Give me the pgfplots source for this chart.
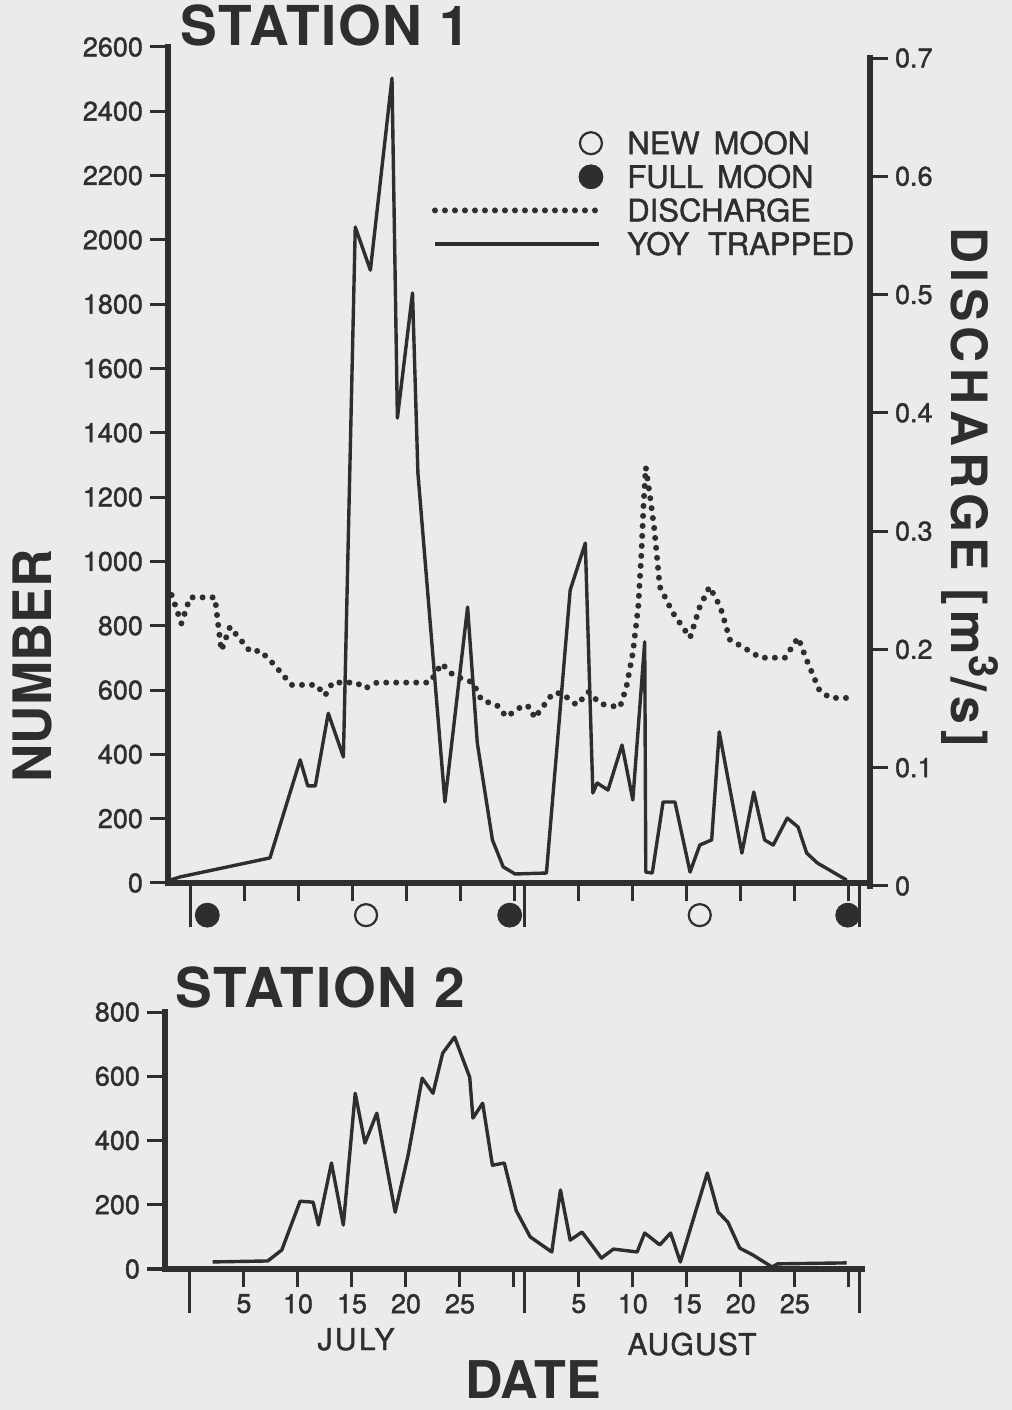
\documentclass[border=0pt]{standalone}
\usepackage{fontspec}
\setmainfont{TeX Gyre Heros}
\newfontfamily\medf{TeX Gyre Heros}[FakeBold=1.3]
\usepackage{pgfplots}
\pgfplotsset{compat=1.18}
\definecolor{bg}{HTML}{EBEBEB}
\definecolor{lc}{HTML}{2E2E2E}
\tikzset{dotline/.style={lc, line width=3pt, line cap=round, dash pattern=on 0pt off 5pt}}
\pgfplotsset{
  base/.style={scale only axis, clip=false,
    axis line style={line width=3.2pt, line cap=rect, lc},
    tick style={line width=1.5pt, lc}, tick align=outside, major tick length=9pt,
    ticklabel style={font=\medf\fontsize{13.5}{16}\selectfont, text=lc},
    /pgf/number format/assume math mode=true,
    /pgf/number format/set thousands separator={}},
  xdays/.style={xtick={5,10,15,20,25,30,36,41,46,51,56,61},
    extra x ticks={0,31,62}, extra x tick labels={},
    extra x tick style={major tick length=22pt}},
}
\begin{document}
\begin{tikzpicture}
\fill[bg] (0,0) rectangle (506pt,705pt);
\path[use as bounding box] (0,0) rectangle (506pt,705pt);

% ---------------- Station 1, number ----------------
\begin{axis}[base, xdays, at={(84pt,263.5pt)}, anchor=south west,
  width=351pt, height=418pt, xmin=-2.04, xmax=62.96, ymin=0, ymax=2600,
  axis x line*=bottom, axis y line*=left, ytick={0,200,...,2600}, xticklabels={}]
\addplot[lc, line width=1.7pt, line join=round] coordinates {
(-1.85,9) (-0.9,19) (7.4,78) (10.2,383) (10.9,302) (11.6,302) (12.8,528) (14.2,392)
(15.3,2040) (16.7,1906) (18.7,2503) (19.2,1446) (20.6,1835) (21.1,1275) (23.6,252)
(25.7,858) (26.6,435) (28.0,134) (29.0,50) (30.1,28) (33.0,31) (35.2,911) (36.6,1057)
(37.3,280) (37.7,311) (38.7,289) (40.0,429) (41.0,258) (42.1,750) (42.2,34) (42.8,31)
(43.8,252) (44.9,252) (46.3,34) (47.2,118) (48.3,134) (49.0,470) (51.1,93) (52.2,283)
(53.2,134) (54.0,118) (55.3,202) (56.3,174) (57.1,93) (58.1,62) (60.8,9)};
% full moons
\addplot[only marks, mark=*, mark size=6pt, mark options={fill=lc, draw=lc}]
  coordinates {(1.6,-100) (29.6,-100) (60.9,-100)};
% new moons
\addplot[only marks, mark=*, mark size=5.5pt, mark options={fill=bg, draw=lc, line width=1.1pt}]
  coordinates {(16.3,-100) (47.2,-100)};
\end{axis}

% ---------------- Station 1, discharge ----------------
\begin{axis}[base, at={(84pt,262pt)}, anchor=south west,
  width=351pt, height=414pt, xmin=-2.04, xmax=62.96, ymin=0, ymax=0.7,
  axis x line=none, axis y line*=right,
  ytick={0,0.1,0.2,0.3,0.4,0.5,0.6,0.7},
  yticklabels={0,0.1,0.2,0.3,0.4,0.5,0.6,0.7},
  legend cell align=left,
  legend style={at={(0.376,0.914)}, anchor=north west, draw=none, fill=none,
    inner sep=0pt, outer sep=0pt, row sep=2.8pt, column sep=12pt,
    font=\medf\fontsize{15.5}{18}\selectfont, text=lc,
    nodes={inner sep=0pt, text height=12.5pt, text depth=1.5pt}}]
\addlegendimage{legend image code/.code={\draw[lc, fill=bg, line width=1.1pt] (78pt,0pt) circle (5.5pt);}}
\addlegendentry{NEW\hspace{0.45em}MOON}
\addlegendimage{legend image code/.code={\fill[lc] (78pt,0pt) circle (6pt);}}
\addlegendentry{FULL\hspace{0.45em}MOON}
\addplot[dotline, legend image code/.code={\draw[dotline] (0pt,0pt) -- (82pt,0pt);}] coordinates {
(-1.7,0.246) (-0.8,0.222) (0,0.244) (2.3,0.244) (2.9,0.199) (3.7,0.219) (5.6,0.198)
(6.5,0.199) (7.7,0.188) (9.4,0.170) (11.7,0.170) (12.5,0.161) (13.2,0.172) (15.4,0.172)
(16.2,0.167) (17.3,0.172) (22.2,0.172) (23.3,0.188) (24.4,0.178) (26.2,0.172) (27.0,0.157)
(28.4,0.153) (29.3,0.143) (30.9,0.153) (31.5,0.151) (31.9,0.142) (33.6,0.163) (34.4,0.163)
(35.8,0.153) (36.9,0.164) (38.0,0.154) (39.8,0.151) (40.4,0.168) (41.0,0.197) (41.5,0.236)
(41.8,0.282) (42.0,0.324) (42.2,0.354) (42.6,0.329) (43.0,0.301) (43.5,0.253) (44.7,0.231)
(46.3,0.210) (47.2,0.236) (48.1,0.253) (49.1,0.236) (50.0,0.208) (51.2,0.202) (52.8,0.193)
(55.1,0.193) (56.3,0.210) (57.1,0.191) (58.3,0.165) (59.3,0.159) (61.1,0.159)};
\addlegendentry{DISCHARGE}
\addlegendimage{legend image code/.code={\draw[lc, line width=1.7pt] (0pt,0pt) -- (82pt,0pt);}}
\addlegendentry{YOY\hspace{0.6em}TRAPPED}
\end{axis}

% ---------------- Station 2 ----------------
\begin{axis}[base, xdays, at={(82.5pt,70.5pt)}, anchor=south west,
  width=348.4pt, height=128.5pt, xmin=-2.31, xmax=62.2, ymin=0, ymax=800,
  axis x line*=bottom, axis y line*=left, ytick={0,200,...,800},
  xticklabels={5,10,15,20,25,,5,10,15,20,25,}]
\addplot[lc, line width=1.7pt, line join=round] coordinates {
(2.1,22) (7.2,25) (8.5,59) (10.2,211) (11.4,208) (11.9,137) (13.1,330) (14.2,137)
(15.3,547) (16.2,392) (17.3,485) (19.0,177) (20.2,355) (21.5,594) (22.5,547) (23.4,672)
(24.5,722) (25.9,597) (26.2,470) (27.1,516) (28.0,323) (29.1,330) (30.2,182) (31.5,100)
(33.5,53) (34.3,246) (35.2,90) (36.3,115) (38.1,34) (39.2,62) (41.4,53) (42.1,112)
(43.5,75) (44.5,112) (45.4,22) (47.9,299) (48.9,177) (49.8,146) (50.9,65) (52.1,44)
(53.9,6) (54.4,16) (60.8,19)};
\end{axis}

% ---------------- titles and labels ----------------
\node[anchor=base west, inner sep=0pt, text=lc, font=\bfseries\fontsize{27.5}{30}\selectfont\addfontfeature{LetterSpace=3}] at (90pt,682pt) {STATION 1};
\node[anchor=base west, inner sep=0pt, text=lc, font=\bfseries\fontsize{27.5}{30}\selectfont\addfontfeature{LetterSpace=3}] at (87.5pt,201pt) {STATION 2};
\node[rotate=90, text=lc, font=\bfseries\fontsize{26.5}{30}\selectfont] at (16pt,372pt) {NUMBER};
\node[rotate=-90, text=lc, font=\bfseries\fontsize{25}{30}\selectfont\addfontfeature{LetterSpace=11}] at (485pt,461.5pt) {DISCHARGE\hspace{0.35em}[m\raisebox{0.35em}{\fontsize{20}{22}\selectfont 3}/s]};
\node[anchor=base, inner sep=0pt, text=lc, font=\medf\fontsize{15}{17}\selectfont\addfontfeature{LetterSpace=8}] at (178pt,30pt) {JULY};
\node[anchor=base, inner sep=0pt, text=lc, font=\medf\fontsize{15}{17}\selectfont\addfontfeature{LetterSpace=4}] at (346pt,27.5pt) {AUGUST};
\node[anchor=base, inner sep=0pt, text=lc, font=\bfseries\fontsize{26}{30}\selectfont] at (266.5pt,5.5pt) {DATE};
\end{tikzpicture}
\end{document}
